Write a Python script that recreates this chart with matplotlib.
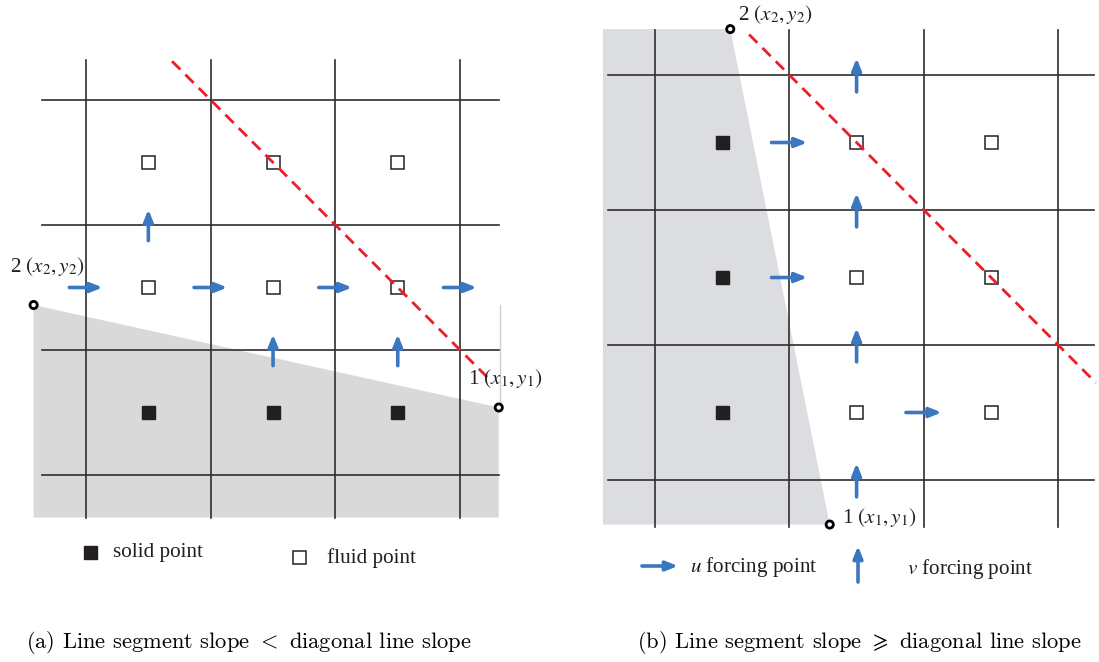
import matplotlib
matplotlib.use("Agg")
import matplotlib.pyplot as plt
from matplotlib.patches import Polygon, Rectangle, Circle

# ---- diagram content (grid-cell units, x to the right, y downward) ----
# panel (a): shallow immersed boundary segment
a_solid = [(0.5, 2.5), (1.5, 2.5), (2.5, 2.5)]
a_fluid = [(0.5, 0.5), (1.5, 0.5), (2.5, 0.5), (0.5, 1.5), (1.5, 1.5), (2.5, 1.5)]
a_u_force = [(0.0, 1.5), (1.0, 1.5), (2.0, 1.5), (3.0, 1.5)]
a_v_force = [(0.5, 1.0), (1.5, 2.0), (2.5, 2.0)]
a_end1 = (3.31, 2.46)
a_end2 = (-0.42, 1.64)
a_diag_x = [0.69, 3.23]

# panel (b): steep immersed boundary segment
b_solid = [(0.5, 0.5), (0.5, 1.5), (0.5, 2.5)]
b_fluid = [(1.5, 0.5), (2.5, 0.5), (1.5, 1.5), (2.5, 1.5), (1.5, 2.5), (2.5, 2.5)]
b_u_force = [(1.0, 0.5), (1.0, 1.5), (2.0, 2.5)]
b_v_force = [(1.5, 0.0), (1.5, 1.0), (1.5, 2.0), (1.5, 3.0)]
b_end1 = (1.30, 3.33)
b_end2 = (0.56, -0.34)
b_diag_x = [0.70, 3.28]

grid_lines = [0, 1, 2, 3]
caption_a = r"(a) Line segment slope $<$ diagonal line slope"
caption_b = r"(b) Line segment slope $\geqslant$ diagonal line slope"

# ---- styling ----
W, H = 1099, 662
GRID_C = "#2e2e2e"
SOLID_C = "#231f20"
BLUE = "#3b76c0"
RED = "#ee1d23"
SHADE_A = "#d9d9d9"
SHADE_B = "#dcdde0"
SERIF = ["Liberation Serif", "DejaVu Serif"]
LBL_FS = 15.2
CAP_FS = 16.2

fig = plt.figure(figsize=(W / 100, H / 100), dpi=100)
ax = fig.add_axes([0, 0, 1, 1])
ax.set_xlim(0, W)
ax.set_ylim(H, 0)
ax.axis("off")

ARROW = dict(arrowstyle="-|>,head_length=0.7,head_width=0.28",
             color=BLUE, lw=2.6, shrinkA=0, shrinkB=0)


def make_map(ox, oy, cx, cy):
    return lambda p: (ox + p[0] * cx, oy + p[1] * cy)


def draw_panel(m, cell, solid, fluid, u_force, v_force, end1, end2, diag_x,
               shade, shade_poly, vspan, hspan, lbl1, lbl2):
    ax.add_patch(Polygon([m(p) for p in shade_poly], closed=True,
                         facecolor=shade, edgecolor="none", zorder=1))
    for g in grid_lines:
        x0, y0 = m((g, vspan[0]))
        x1, y1 = m((g, vspan[1]))
        ax.plot([x0, x1], [y0, y1], color=GRID_C, lw=1.2, zorder=2)
        x0, y0 = m((hspan[0], g))
        x1, y1 = m((hspan[1], g))
        ax.plot([x0, x1], [y0, y1], color=GRID_C, lw=1.2, zorder=2)
    # dashed diagonal through grid nodes
    dx0, dy0 = m((diag_x[0], diag_x[0] - 1))
    dx1, dy1 = m((diag_x[1], diag_x[1] - 1))
    ax.plot([dx0, dx1], [dy0, dy1], color=RED, lw=2.0, dashes=(4.2, 2.6), zorder=5)
    s = 13
    for p in solid:
        x, y = m(p)
        ax.add_patch(Rectangle((x - s / 2, y - s / 2), s, s, facecolor=SOLID_C,
                               edgecolor=SOLID_C, lw=1, zorder=4))
    for p in fluid:
        x, y = m(p)
        ax.add_patch(Rectangle((x - s / 2, y - s / 2), s, s, facecolor="white",
                               edgecolor="#222222", lw=1.1, zorder=4))
    half = 0.125 * cell
    for p in u_force:
        x, y = m(p)
        ax.annotate("", xy=(x + half + 1, y), xytext=(x - half - 1, y),
                    arrowprops=ARROW, zorder=6)
    for p in v_force:
        x, y = m(p)
        ax.annotate("", xy=(x, y - half), xytext=(x, y + half),
                    arrowprops=ARROW, zorder=6)
    for e in (end1, end2):
        x, y = m(e)
        ax.add_patch(Circle((x, y), 3.6, facecolor="white", edgecolor="black",
                            lw=2.0, zorder=7))
    for e, txt, (ddx, ddy) in ((end1, r"1 $(x_1, y_1)$", lbl1),
                               (end2, r"2 $(x_2, y_2)$", lbl2)):
        x, y = m(e)
        ax.text(x + ddx, y + ddy, txt, family=SERIF, math_fontfamily="stix",
                fontsize=LBL_FS, ha="left", va="center", color="#231f20", zorder=8)


# panel (a)
ma = make_map(86, 100, 124.7, 125.0)
draw_panel(ma, 125.0, a_solid, a_fluid, a_u_force, a_v_force, a_end1, a_end2,
           a_diag_x, SHADE_A,
           [a_end2, a_end1, (a_end1[0], 3.34), (a_end2[0], 3.34)],
           (-0.32, 3.34), (-0.35, 3.31), (-31, -29), (-24, -38))
x1a, y1a = ma(a_end1)
ax.plot([x1a + 1.5, x1a + 1.5], [ma((0, 1.64))[1], y1a], color="#cfcfcf",
        lw=1.0, zorder=1)

# panel (b)
mb = make_map(655, 75, 134.4, 135.0)
draw_panel(mb, 135.0, b_solid, b_fluid, b_u_force, b_v_force, b_end1, b_end2,
           b_diag_x, SHADE_B,
           [(-0.387, b_end2[1]), b_end2, b_end1, (-0.387, b_end1[1])],
           (-0.335, 3.35), (-0.35, 3.27), (12, -7), (8, -15))

# legends
ax.add_patch(Rectangle((84, 546), 13, 13, facecolor=SOLID_C, edgecolor=SOLID_C, zorder=4))
ax.text(113, 553, "solid point", family=SERIF, fontsize=LBL_FS, ha="left",
        va="center", color="#231f20")
ax.add_patch(Rectangle((293, 551), 13, 13, facecolor="white", edgecolor="#222222",
                       lw=1.1, zorder=4))
ax.text(327, 558, "fluid point", family=SERIF, fontsize=LBL_FS, ha="left",
        va="center", color="#231f20")
ax.annotate("", xy=(678, 566), xytext=(642, 566), arrowprops=ARROW)
ax.text(690, 567, r"$u$ forcing point", family=SERIF, math_fontfamily="stix",
        fontsize=LBL_FS, ha="left", va="center", color="#231f20")
ax.annotate("", xy=(858, 546), xytext=(858, 582), arrowprops=ARROW)
ax.text(907, 569, r"$v$ forcing point", family=SERIF, math_fontfamily="stix",
        fontsize=LBL_FS, ha="left", va="center", color="#231f20")

# captions
ax.text(249, 642, caption_a, family="cmr10", math_fontfamily="cm", fontsize=CAP_FS,
        ha="center", va="center", color="black")
ax.text(859, 642, caption_b, family="cmr10", math_fontfamily="cm", fontsize=CAP_FS,
        ha="center", va="center", color="black")

fig.savefig("out.png", dpi=100)
